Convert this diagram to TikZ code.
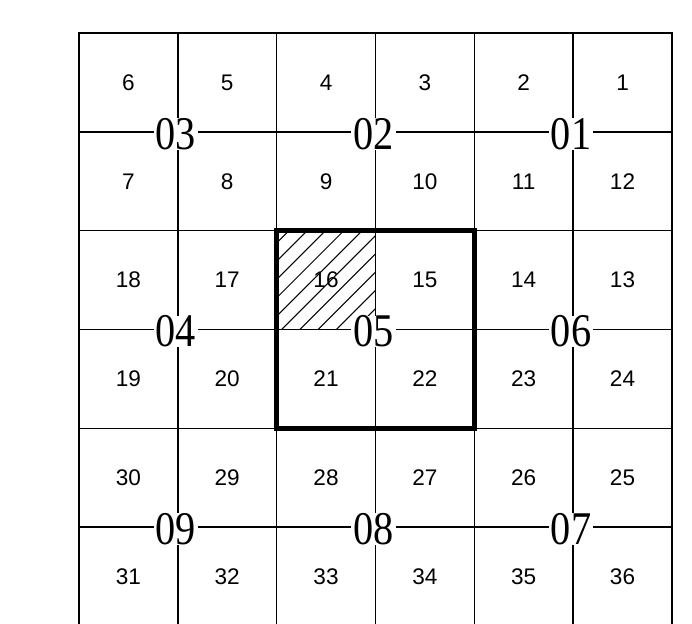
\documentclass[tikz,border=0pt]{standalone}
\usepackage{graphicx}
\usepackage{fontspec}
\setmainfont{Liberation Serif}
\setsansfont{Liberation Sans}

\begin{document}
\begin{tikzpicture}[
  cellnum/.style={font=\sffamily\fontsize{6.5}{7}\selectfont},
  blocknum/.style={font=\fontsize{13.5}{14}\selectfont, fill=white, inner xsep=0.6pt, inner ysep=0pt}]
  \useasboundingbox (-0.799,0.03) rectangle (6.203,6.334);
  % hatched cell
  \begin{scope}
    \clip (2,3) rectangle (3,4);
    \foreach \k in {-6,...,6} \draw[line width=0.3pt] (2.05+0.185*\k,3) -- ++(1,1);
  \end{scope}
  % grid
  \foreach \x in {0,...,6} \draw[line width=0.45pt] (\x,0) -- (\x,6);
  \foreach \y in {1,...,5} \draw[line width=0.45pt] (0,\y) -- (6,\y);
  \draw[line width=0.85pt] (-0.01,6) -- (6.01,6);
  \draw[line width=1.4pt] (2,2) rectangle (4,4);
  % cell numbers
  \foreach \r in {1,...,6}
    \foreach \c in {1,...,6} {
      \pgfmathtruncatemacro{\n}{isodd(\r) ? 6*\r+1-\c : 6*(\r-1)+\c}
      \node[cellnum] (c\n) at (\c-0.5,6.5-\r) {\n};
    }
  % block numbers
  \foreach \blk/\x/\y in {01/5/5,02/3/5,03/1/5,04/1/3,05/3/3,06/5/3,07/5/1,08/3/1,09/1/1}
    \node[blocknum] (b\blk) at (\x-0.02,\y-0.02) {\scalebox{0.86}[1]{\blk}};
\end{tikzpicture}
\end{document}
